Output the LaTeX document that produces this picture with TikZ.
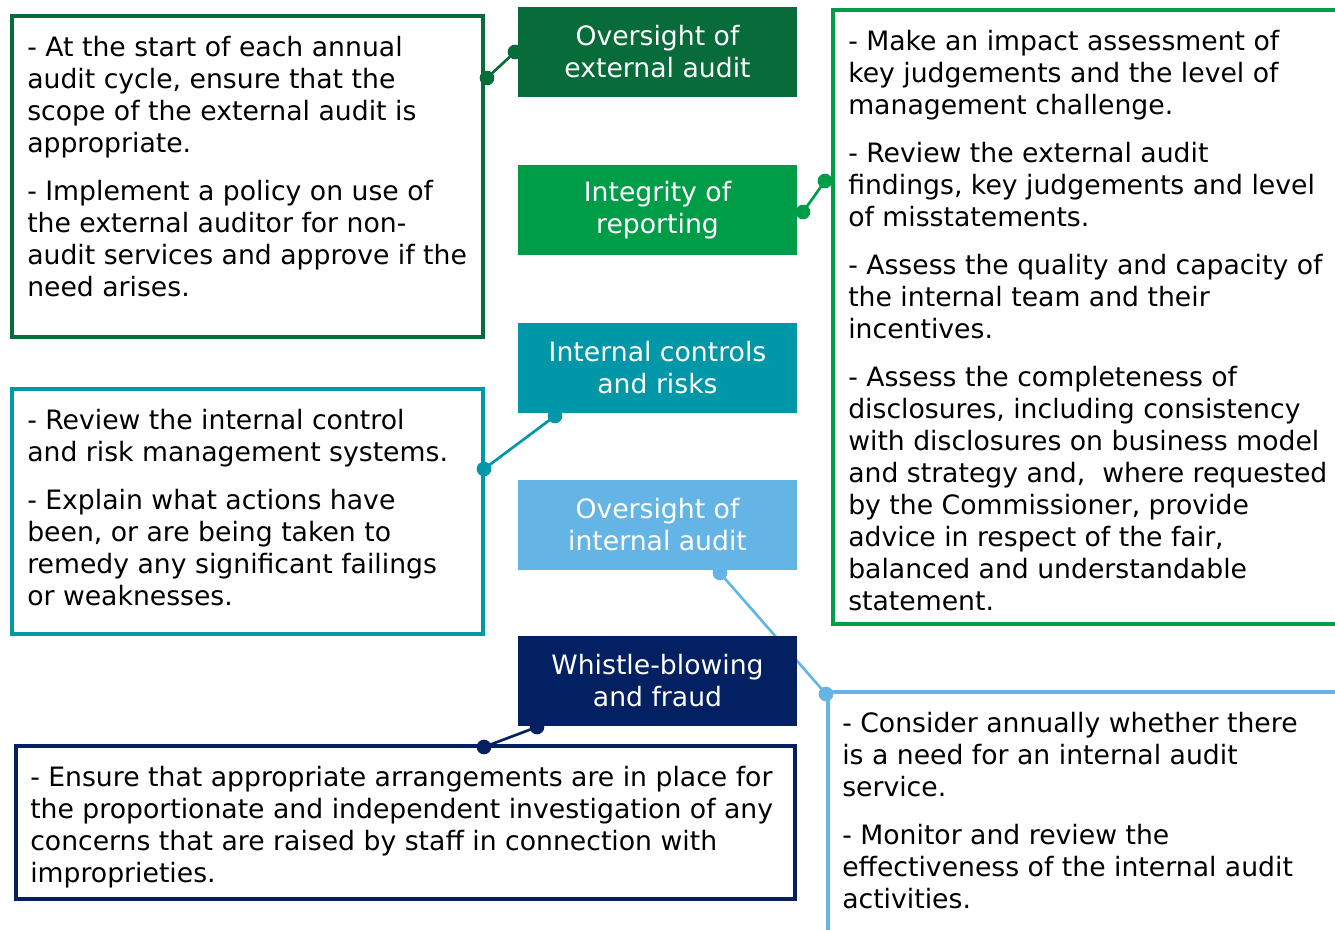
\documentclass[tikz,border=0pt]{standalone}
\usepackage{fontspec}
\setmainfont{DejaVu Sans}
\definecolor{extgreen}{HTML}{086B3A}
\definecolor{repgreen}{HTML}{009D48}
\definecolor{ctrlteal}{HTML}{0097A8}
\definecolor{iablue}{HTML}{64B5E6}
\definecolor{whistnavy}{HTML}{022062}
\begin{document}
\begin{tikzpicture}[x=0.75pt,y=-0.75pt,
  font=\fontsize{20}{24}\selectfont,
  topic/.style={fill=#1, text=white, inner sep=0pt, align=center,
    minimum width=209.25pt, minimum height=67.5pt},
  taskbox/.style={draw=#1, line width=3.4pt},
  tasktext/.style={anchor=base west, inner sep=0pt, align=left},
  link/.style={draw=#1, line width=2pt},
  dot/.style={fill=#1}]
\useasboundingbox (0,0) rectangle (1335,930);
\clip (0,0) rectangle (1335,930);

% task boxes
\draw[taskbox=extgreen] (12,16) rectangle (483,337);
\draw[taskbox=repgreen] (833,10) rectangle (1350,624);
\draw[taskbox=ctrlteal] (12,389) rectangle (483,634);
\draw[taskbox=whistnavy] (16,746) rectangle (795,899);
\draw[taskbox=iablue] (828,692) rectangle (1350,945);

% texts, placed by the baseline of their last line
\node[tasktext] (exttext) at (27,297) {- At the start of each annual\\
  audit cycle, ensure that the\\ scope of the external audit is\\ appropriate.\\[12pt]
  - Implement a policy on use of\\ the external auditor for non-\\
  audit services and approve if the\\ need arises.};
\node[tasktext] (reptext) at (848,610) {- Make an impact assessment of\\
  key judgements and the level of\\ management challenge.\\[12pt]
  - Review the external audit\\ findings, key judgements and level\\
  of misstatements.\\[12pt]
  - Assess the quality and capacity of\\ the internal team and their\\
  incentives.\\[12pt]
  - Assess the completeness of\\ disclosures, including consistency\\
  with disclosures on business model\\ and strategy and,~ where requested\\
  by the Commissioner, provide\\ advice in respect of the fair,\\
  balanced and understandable\\ statement.};
\node[tasktext] (ctrltext) at (27,605) {- Review the internal control\\
  and risk management systems.\\[12pt]
  - Explain what actions have\\ been, or are being taken to\\
  remedy any significant failings\\ or weaknesses.};
\node[tasktext] (whisttext) at (30,882) {- Ensure that appropriate arrangements are in place for\\
  the proportionate and independent investigation of any\\
  concerns that are raised by staff in connection with\\ improprieties.};
\node[tasktext] (iatext) at (842,908) {- Consider annually whether there\\
  is a need for an internal audit\\ service.\\[12pt]
  - Monitor and review the\\ effectiveness of the internal audit\\ activities.};

% dot positions
\coordinate (d1a) at (487,78);
\coordinate (d1b) at (515,52);
\coordinate (d2a) at (803,212);
\coordinate (d2b) at (825,181);
\coordinate (d3a) at (555,416);
\coordinate (d3b) at (484,469);
\coordinate (d4a) at (720,573);
\coordinate (d4b) at (826,694);
\coordinate (d5a) at (537,727);
\coordinate (d5b) at (484,747);

\path[link=extgreen] (d1a) -- (d1b);
\path[link=repgreen] (d2a) -- (d2b);
\path[link=ctrlteal] (d3a) -- (d3b);
\path[link=iablue] (d4a) -- (d4b);
\path[link=whistnavy] (d5a) -- (d5b);

% topics
\node[topic=extgreen] (ext) at (657.5,52) {Oversight of\\ external audit};
\node[topic=repgreen] (rep) at (657.5,210) {Integrity of\\ reporting};
\node[topic=ctrlteal] (ctrl) at (657.5,368) {Internal controls\\ and risks};
\node[topic=iablue] (ia) at (657.5,525) {Oversight of\\ internal audit};
\node[topic=whistnavy] (whist) at (657.5,681) {Whistle-blowing\\ and fraud};

\foreach \d/\c in {d1a/extgreen,d1b/extgreen,d2a/repgreen,d2b/repgreen,
  d3a/ctrlteal,d3b/ctrlteal,d4a/iablue,d4b/iablue,d5a/whistnavy,d5b/whistnavy}
  \fill[dot=\c] (\d) circle (5.5pt);
\end{tikzpicture}
\end{document}
